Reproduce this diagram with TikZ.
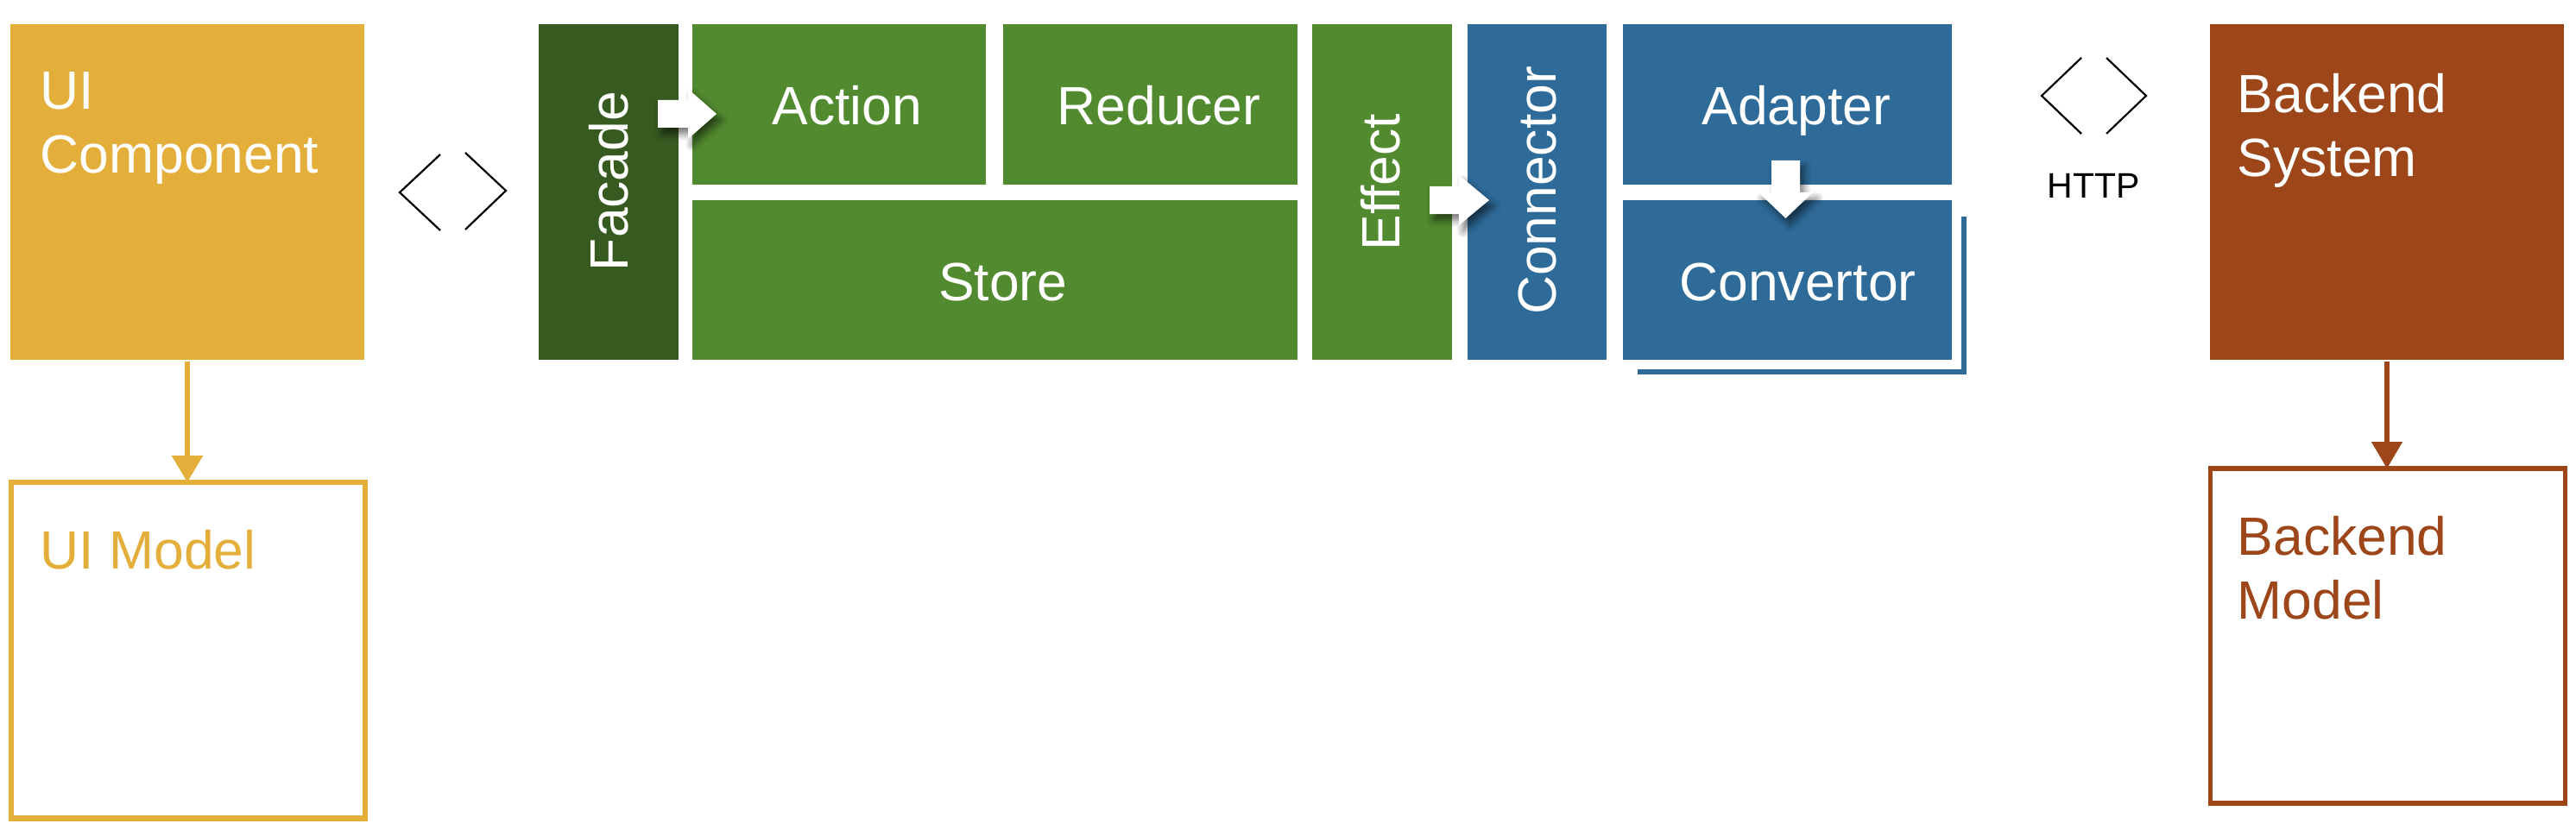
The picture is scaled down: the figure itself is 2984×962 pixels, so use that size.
\documentclass[tikz,border=0pt]{standalone}
\usepackage{fontspec}
\setmainfont{Liberation Sans}
\usetikzlibrary{fit,shadows.blur,arrows.meta}
\definecolor{uiyellow}{HTML}{E4AE3B}
\definecolor{dkgreen}{HTML}{375A20}
\definecolor{midgreen}{HTML}{528A2F}
\definecolor{midblue}{HTML}{2E6B99}
\definecolor{brownred}{HTML}{9C461A}
\tikzset{
  box/.style={inner sep=0pt, outer sep=0pt, draw=none},
  lbl/.style={text=white, inner sep=0pt, font=\fontsize{15.6}{18.5}\selectfont, text height=11.3pt, text depth=0pt},
  rlbl/.style={lbl, rotate=90},
  cornerlbl/.style={anchor=north west, inner sep=0pt, align=left, text=white, font=\fontsize{15.6}{18.5}\selectfont},
  modellbl/.style={anchor=north west, inner sep=0pt, align=left, font=\fontsize{15.6}{18.6}\selectfont},
  blockarr/.style={fill=white, blur shadow={shadow xshift=1.2pt, shadow yshift=-1.8pt, shadow blur radius=2pt, shadow blur steps=6, shadow opacity=55}},
  chev/.style={draw=black, line width=0.55pt},
  downarr/.style={line width=1.45pt, -{Triangle[width=8.75pt,length=7.75pt]}},
}
\begin{document}
\begin{tikzpicture}[x=0.25pt,y=-0.25pt]
\useasboundingbox (0,0) rectangle (2984,962);

% upper boxes
\node[box, fill=uiyellow, fit={(12,28) (422,417)}] (uic) {};
\node[box, fill=dkgreen, fit={(624,28) (786,417)}] (facade) {};
\node[box, fill=midgreen, fit={(802,28) (1142,214)}] (action) {};
\node[box, fill=midgreen, fit={(1162,28) (1503,214)}] (reducer) {};
\node[box, fill=midgreen, fit={(802,232) (1503,417)}] (store) {};
\node[box, fill=midgreen, fit={(1520,28) (1682,417)}] (effect) {};
\node[box, fill=midblue, fit={(1700,28) (1861,417)}] (connector) {};
\node[box, fill=midblue, fit={(1880,28) (2261,214)}] (adapter) {};
\node[box, fill=midblue, fit={(1880,232) (2261,417)}] (convertor) {};
\node[box, fill=brownred, fit={(2560,28) (2970,417)}] (backend) {};

% convertor offset frame
\draw[midblue, line width=1.4pt, line join=miter] (1897,431) -- (2275,431) -- (2275,251);

% centred labels
\node[lbl] (actionT) at ([xshift=2.3pt, yshift=-0.2pt]action.center) {Action};
\node[lbl] (reducerT) at ([xshift=2.5pt, yshift=-0.2pt]reducer.center) {Reducer};
\node[lbl] (storeT) at ([xshift=2.3pt, yshift=-0.4pt]store.center) {Store};
\node[lbl] (adapterT) at ([xshift=2.6pt, yshift=-0.2pt]adapter.center) {Adapter};
\node[lbl] (convertorT) at ([xshift=3pt, yshift=-0.4pt]convertor.center) {Convertor};

% rotated labels
\node[rlbl] (facadeT) at (705,210) {Facade};
\node[rlbl] (effectT) at (1599,211) {Effect};
\node[rlbl] (connectorT) at (1780,221) {Connector};

% corner labels
\node[cornerlbl] (uicT) at (46,83) {UI\\Component};
\node[cornerlbl] (backendT) at (2591,84) {Backend\\System};

% model boxes
\node[box, draw=uiyellow, line width=1.55pt, fit={(13,559) (423,948.5)}] (uim) {};
\node[box, draw=brownred, line width=1.3pt, fit={(2560.5,543) (2971.5,931)}] (bem) {};
\node[modellbl, text=uiyellow] (uimT) at (46,613) {UI Model};
\node[modellbl, text=brownred] (bemT) at (2591,597) {Backend\\Model};

% connectors
\draw[downarr, draw=uiyellow, fill=uiyellow] ([yshift=-0.5pt]uic.south) -- (uic.south |- uim.north);
\draw[downarr, draw=brownred, fill=brownred, line width=1.3pt] ([yshift=-0.5pt]backend.south) -- (backend.south |- bem.north);

% block arrows
\path[blockarr] (762,116) -- (797,116) -- (797,103) -- (830,132) -- (797,161) -- (797,148) -- (762,148) -- cycle;
\path[blockarr] (1656,216) -- (1690,216) -- (1690,203) -- (1725,232) -- (1690,261) -- (1690,248) -- (1656,248) -- cycle;
\path[blockarr] (2052,186) -- (2085,186) -- (2085,223) -- (2100,223) -- (2068.5,253) -- (2037,223) -- (2052,223) -- cycle;

% chevrons
\draw[chev] (510,179) -- (463,223) -- (510,267);
\draw[chev] (539,177) -- (586,221) -- (539,266);
\draw[chev] (2411,67) -- (2365,111) -- (2411,155);
\draw[chev] (2440,67) -- (2486,111) -- (2440,155);
\node[inner sep=0pt, font=\fontsize{10.25}{12}\selectfont, text height=7.4pt, text depth=0pt] (http) at (2425,215) {HTTP};
\end{tikzpicture}
\end{document}
